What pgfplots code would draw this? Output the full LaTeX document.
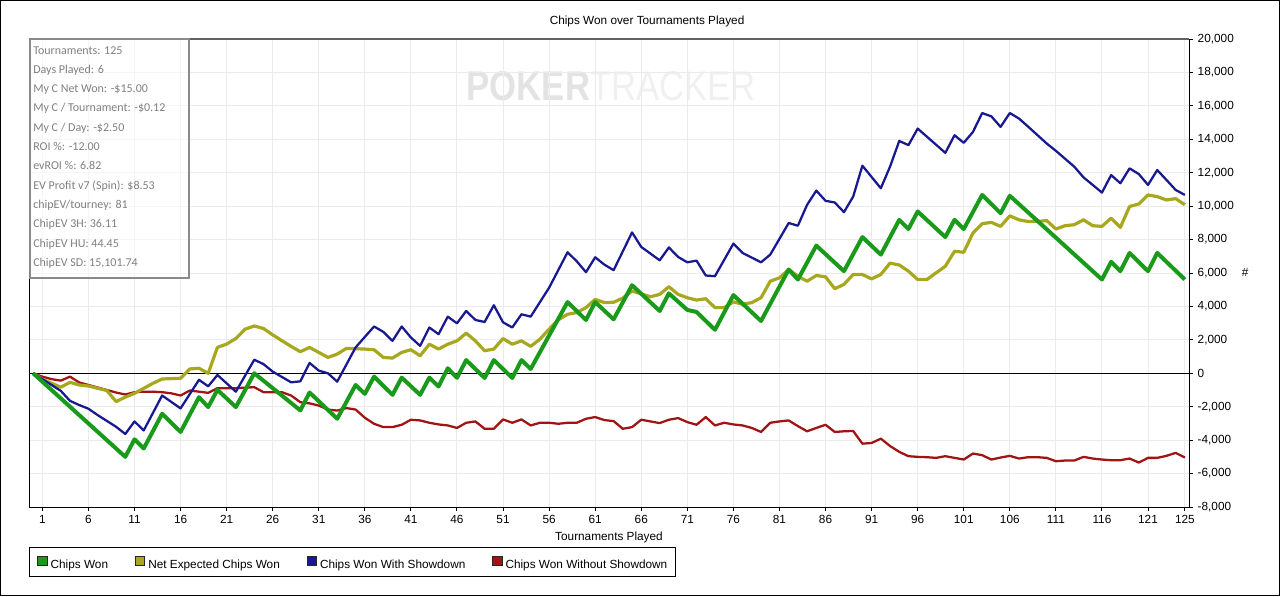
\documentclass[border=0pt]{standalone}
\usepackage{fontspec}
\setmainfont{Liberation Sans}
\newfontfamily\boxfont{Carlito}
\usepackage{pgfplots}
\pgfplotsset{compat=1.18}
\definecolor{cgreen}{HTML}{1A9A1A}
\definecolor{colive}{HTML}{A8A820}
\definecolor{cblue}{HTML}{181890}
\definecolor{cred}{HTML}{A01414}
\definecolor{boxtext}{HTML}{808080}
\definecolor{boxframe}{HTML}{8A8A8A}
\newcommand\cf{\fontsize{8.85}{10.6}\selectfont}
\newcommand\boxf{\boxfont\fontsize{9}{10.8}\selectfont}
\begin{document}
\begin{tikzpicture}
\begin{scope}[x=0.75pt,y=-0.75pt]
\useasboundingbox (0,0) rectangle (1280,596);
\node[inner sep=0pt, text=black!11] at (611.3,86.2) {\resizebox{217pt}{21.75pt}{\bfseries POKER\mdseries\color{black!6}TRACKER}};
\end{scope}
\begin{axis}[
  at={(21.75pt,-380.25pt)}, anchor=south west,
  scale only axis, width=870pt, height=351pt,
  xmin=-0.45, xmax=125.45, ymin=-8000, ymax=20000,
  xtick={1,6,...,121,125}, ytick={-8000,-6000,...,20000},
  scaled y ticks=false,
  xtick pos=left, ytick pos=right, yticklabel pos=right,
  tick align=outside, major tick length=3pt,
  tick style={black, line width=0.75pt},
  axis line style={black, line width=0.75pt},
  grid=major, major grid style={draw=black!8, line width=0.75pt},
  /pgf/number format/.cd, fixed, 1000 sep={,}, assume math mode=true, /pgfplots/.cd,
  tick label style={font=\cf},
  title={Chips Won over Tournaments Played},
  every axis title/.style={at={(axis description cs:0.5328,1.0385)}, anchor=center, font=\cf},
  xlabel={Tournaments Played},
  every axis x label/.style={at={(axis description cs:0.5,-0.0641)}, anchor=center, font=\cf},
  ylabel={\#},
  every axis y label/.style={at={(axis description cs:1.0483,0.502)}, anchor=center, font=\cf},
  legend columns=4,
  legend style={at={(axis description cs:0,-0.0855)}, anchor=north west, draw=black, line width=0.75pt,
    inner xsep=6pt, inner ysep=6pt, font=\cf, nodes={inner sep=0pt, text depth=0pt},
    /tikz/every odd column/.append style={column sep=2.25pt},
    /tikz/every even column/.append style={column sep=20.25pt}},
  legend image code/.code={\draw[#1, line width=0.6pt] (0pt,-0.6pt) rectangle (7pt,6.4pt);},
]
\addlegendimage{fill=cgreen, draw=black!85}
\addlegendentry{Chips Won}
\addlegendimage{fill=colive, draw=black!85}
\addlegendentry{Net Expected Chips Won}
\addlegendimage{fill=cblue, draw=black!85}
\addlegendentry{Chips Won With Showdown}
\addlegendimage{fill=cred, draw=black!85}
\addlegendentry{Chips Won Without Showdown}

\draw[black, line width=0.75pt] (axis cs:-0.45,0) -- (axis cs:125.45,0);

% Chips Won Without Showdown
\addplot[cred, line width=1.7pt, line join=round, forget plot] coordinates {
(0,0) (1,-200) (2,-350) (3,-440) (4,-200) (5,-550) (6,-700) (7,-850) (8,-1000) (9,-1150) (10,-1270)
(11,-1130) (12,-1100) (13,-1100) (14,-1130) (15,-1200) (16,-1330) (17,-1030) (18,-1100) (19,-1170) (20,-890)
(21,-890) (22,-890) (23,-860) (24,-830) (25,-1130) (26,-1130) (27,-1130) (28,-1330) (29,-1730) (30,-1800)
(31,-1930) (32,-2170) (33,-2230) (34,-2080) (35,-2170) (36,-2660) (37,-3020) (38,-3220) (39,-3220) (40,-3080)
(41,-2780) (42,-2820) (43,-2960) (44,-3060) (45,-3120) (46,-3270) (47,-2960) (48,-2880) (49,-3320) (50,-3320)
(51,-2760) (52,-2960) (53,-2760) (54,-3120) (55,-2960) (56,-2960) (57,-3020) (58,-2960) (59,-2960) (60,-2720)
(61,-2620) (62,-2800) (63,-2860) (64,-3320) (65,-3220) (66,-2780) (67,-2880) (68,-2980) (69,-2780) (70,-2680)
(71,-2920) (72,-3080) (73,-2620) (74,-3120) (75,-2960) (76,-3060) (77,-3120) (78,-3270) (79,-3510) (80,-2960)
(81,-2880) (82,-2820) (83,-3160) (84,-3470) (85,-3270) (86,-3080) (87,-3510) (88,-3470) (89,-3450) (90,-4210)
(91,-4170) (92,-3910) (93,-4350) (94,-4700) (95,-4960) (96,-5000) (97,-5020) (98,-5060) (99,-4960) (100,-5060)
(101,-5160) (102,-4800) (103,-4900) (104,-5160) (105,-5040) (106,-4940) (107,-5100) (108,-5020) (109,-5020) (110,-5060)
(111,-5260) (112,-5220) (113,-5220) (114,-5000) (115,-5100) (116,-5160) (117,-5200) (118,-5200) (119,-5100) (120,-5340)
(121,-5060) (122,-5060) (123,-4940) (124,-4760) (125,-5040)
};

% Net Expected Chips Won
\addplot[colive, line width=2.4pt, line join=round, forget plot] coordinates {
(0,0) (1,-350) (2,-600) (3,-830) (4,-540) (5,-700) (6,-760) (7,-900) (8,-1030) (9,-1690) (10,-1430)
(11,-1200) (12,-900) (13,-600) (14,-340) (15,-320) (16,-300) (17,260) (18,300) (19,0) (20,1550)
(21,1750) (22,2080) (23,2640) (24,2830) (25,2680) (26,2300) (27,1950) (28,1610) (29,1290) (30,1550)
(31,1250) (32,950) (33,1150) (34,1490) (35,1470) (36,1450) (37,1410) (38,950) (39,910) (40,1250)
(41,1410) (42,1050) (43,1740) (44,1450) (45,1740) (46,1940) (47,2400) (48,1940) (49,1350) (50,1450)
(51,2080) (52,1740) (53,1940) (54,1610) (55,2040) (56,2640) (57,3200) (58,3530) (59,3630) (60,3930)
(61,4420) (62,4230) (63,4250) (64,4500) (65,4920) (66,4750) (67,4580) (68,4720) (69,5180) (70,4720)
(71,4520) (72,4380) (73,4460) (74,3930) (75,3930) (76,4270) (77,4130) (78,4230) (79,4520) (80,5510)
(81,5710) (82,6210) (83,5810) (84,5510) (85,5850) (86,5770) (87,5060) (88,5320) (89,5910) (90,5910)
(91,5650) (92,5910) (93,6590) (94,6480) (95,6110) (96,5610) (97,5610) (98,6010) (99,6400) (100,7300)
(101,7240) (102,8390) (103,8950) (104,9030) (105,8790) (106,9420) (107,9180) (108,9080) (109,9080) (110,9140)
(111,8630) (112,8830) (113,8890) (114,9180) (115,8830) (116,8790) (117,9280) (118,8730) (119,9980) (120,10130)
(121,10670) (122,10570) (123,10370) (124,10450) (125,10080)
};

% Chips Won With Showdown
\addplot[cblue, line width=1.7pt, line join=round, forget plot] coordinates {
(0,0) (1,-350) (2,-700) (3,-1050) (4,-1650) (5,-1900) (6,-2120) (7,-2500) (8,-2850) (9,-3200) (10,-3630)
(11,-2880) (12,-3420) (14,-1330) (16,-2100) (18,-390) (19,-780) (20,-100) (22,-1100) (24,810) (25,550)
(26,100) (28,-540) (29,-480) (30,620) (31,160) (32,0) (33,-500) (35,1550) (37,2800) (38,2480)
(39,1940) (40,2800) (41,2140) (42,1640) (43,2740) (44,2340) (45,3390) (46,2990) (47,3730) (48,3190)
(49,3070) (50,4070) (51,3050) (52,2740) (53,3530) (54,3390) (56,5120) (58,7240) (59,6700) (60,6050)
(61,6940) (62,6500) (63,6170) (65,8430) (66,7560) (68,6760) (69,7530) (70,6960) (71,6640) (72,6740)
(73,5850) (74,5810) (76,7760) (77,7200) (79,6640) (80,7100) (82,8990) (83,8830) (84,10080) (85,10930)
(86,10320) (87,10220) (88,9640) (89,10570) (90,12420) (92,11070) (93,12360) (94,13900) (95,13650) (96,14640)
(99,13190) (100,14240) (101,13790) (102,14440) (103,15570) (104,15370) (105,14740) (106,15570) (107,15240) (108,14750)
(110,13750) (111,13310) (113,12360) (114,11720) (115,11270) (116,10810) (117,11860) (118,11370) (119,12260) (120,11920)
(121,11270) (122,12160) (123,11570) (124,10970) (125,10670)
};

% Chips Won
\addplot[cgreen, line width=3pt, line join=round, forget plot] coordinates {
(0,0) (10,-5000) (11,-3950) (12,-4500) (14,-2420) (16,-3510) (18,-1430) (19,-2020) (20,-990) (22,-2020)
(24,0) (29,-2220) (30,-1150) (33,-2720) (35,-700) (36,-1230) (37,-200) (39,-1290) (40,-260) (42,-1290)
(43,-260) (44,-790) (45,300) (46,-270) (47,790) (49,-280) (50,790) (52,-280) (53,790) (54,260)
(58,4260) (60,3190) (61,4260) (63,3230) (65,5270) (68,3730) (69,4780) (71,3790) (72,3670) (74,2600)
(76,4680) (79,3130) (82,6210) (83,5610) (85,7640) (88,6110) (90,8150) (92,7100) (94,9180) (95,8630)
(96,9680) (99,8150) (100,9180) (101,8630) (103,10670) (105,9580) (106,10620) (116,5610) (117,6670) (118,6110)
(119,7200) (121,6110) (122,7200) (125,5610)
};
\end{axis}
\begin{scope}[x=0.75pt,y=-0.75pt]
\draw[black!62, line width=1.5pt] (29,39) -- (1189,39);
\draw[boxframe, line width=1.5pt, fill=white, fill opacity=0.55] (29.5,39) rectangle (189,278);
\begin{scope}[every node/.style={anchor=base west, inner sep=0pt, text=boxtext, font=\boxf}]
\node at (33,54) {Tournaments: 125};
\node at (33,73.3) {Days Played: 6};
\node at (33,92.6) {My C Net Won: -\$15.00};
\node at (33,111.9) {My C / Tournament: -\$0.12};
\node at (33,131.2) {My C / Day: -\$2.50};
\node at (33,150.5) {ROI \%: -12.00};
\node at (33,169.8) {evROI \%: 6.82};
\node at (33,189.1) {EV Profit v7 (Spin): \$8.53};
\node at (33,208.4) {chipEV/tourney: 81};
\node at (33,227.7) {ChipEV 3H: 36.11};
\node at (33,247) {ChipEV HU: 44.45};
\node at (33,266.3) {ChipEV SD: 15,101.74};
\end{scope}
\draw[black, line width=0.75pt] (0.5,0.5) rectangle (1279.5,595.5);
\end{scope}
\end{tikzpicture}
\end{document}
